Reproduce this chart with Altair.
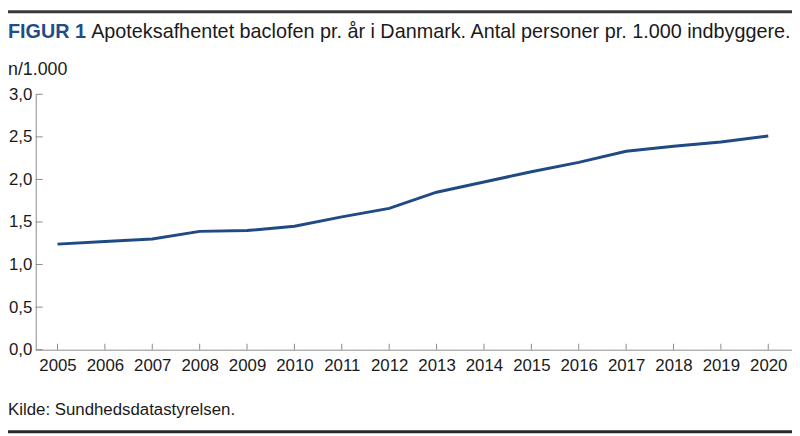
import altair as alt
import pandas as pd

years = list(range(2005, 2021))
values = [1.24, 1.27, 1.30, 1.39, 1.40, 1.45, 1.56, 1.66, 1.85, 1.97, 2.09, 2.20, 2.33, 2.39, 2.44, 2.51]
y_ticks = [0.0, 0.5, 1.0, 1.5, 2.0, 2.5, 3.0]
title_bold = "FIGUR 1"
title_text = "Apoteksafhentet baclofen pr. år i Danmark. Antal personer pr. 1.000 indbyggere."
y_unit = "n/1.000"
source = "Kilde: Sundhedsdatastyrelsen."

W, H = 764, 258
FONT = "Liberation Sans"
AXIS_COLOR = "#8a8a8a"
LINE_COLOR = "#1f4a84"
TEXT_COLOR = "#1a1a1a"

df = pd.DataFrame({"year": years, "value": values})
xscale = alt.Scale(domain=[2004.54, 2020.501], nice=False, zero=False)
yscale = alt.Scale(domain=[0, 3], nice=False, zero=True)

x_axis = alt.Axis(values=years, format="d", tickSize=0, labelPadding=8,
                  domainColor=AXIS_COLOR, labelFont=FONT, labelFontSize=17,
                  labelColor=TEXT_COLOR, grid=False, title=None,
                  labelOverlap=False, labelFlush=False)
y_axis = alt.Axis(values=y_ticks,
                  labelExpr="replace(format(datum.value, '.1f'), '.', ',')",
                  tickSize=0, labelPadding=4, domainColor=AXIS_COLOR,
                  labelFont=FONT, labelFontSize=17, labelColor=TEXT_COLOR,
                  grid=False, title=None, labelOverlap=False)

line = alt.Chart(df).mark_line(color=LINE_COLOR, strokeWidth=3).encode(
    x=alt.X("year:Q", scale=xscale, axis=x_axis),
    y=alt.Y("value:Q", scale=yscale, axis=y_axis),
)

xticks = alt.Chart(pd.DataFrame({"year": years})).mark_rule(
    color=AXIS_COLOR, strokeWidth=1
).encode(
    x=alt.X("year:Q", scale=xscale, axis=x_axis),
    y=alt.value(H - 6), y2=alt.value(H),
)

yticks = alt.Chart(pd.DataFrame({"value": y_ticks})).mark_rule(
    color=AXIS_COLOR, strokeWidth=1
).encode(
    y=alt.Y("value:Q", scale=yscale, axis=y_axis),
    x=alt.value(0), x2=alt.value(7),
)

def text_layer(txt, x, y, size, bold=False, color=TEXT_COLOR):
    return alt.Chart(pd.DataFrame({"t": [txt]})).mark_text(
        align="left", baseline="middle", font=FONT, fontSize=size,
        fontWeight="bold" if bold else "normal", color=color
    ).encode(x=alt.value(x), y=alt.value(y), text="t:N")

t1 = text_layer(title_bold, -28, -63, 20, bold=True, color="#234d88")
t2 = text_layer(title_text, 56, -63, 20)
t3 = text_layer(y_unit, -28, -25, 18)
t4 = text_layer(source, -28, 319, 17)

top_rule = alt.Chart(pd.DataFrame({"a": [0]})).mark_rule(color="#3a3a3a", strokeWidth=3).encode(
    x=alt.value(-28), x2=alt.value(W), y=alt.value(-83.5)
)
bottom_rule = alt.Chart(pd.DataFrame({"a": [0]})).mark_rule(color="#2a2a2a", strokeWidth=3).encode(
    x=alt.value(-28), x2=alt.value(W), y=alt.value(341)
)

chart = alt.layer(line, xticks, yticks, t1, t2, t3, t4, top_rule, bottom_rule).properties(
    width=W, height=H,
    padding={"left": 28, "top": 85, "right": 0, "bottom": 85},
    autosize=alt.AutoSizeParams(type="none"),
).configure_view(stroke=None)

chart.save("out.html", embed_options={"renderer": "svg", "actions": False})
